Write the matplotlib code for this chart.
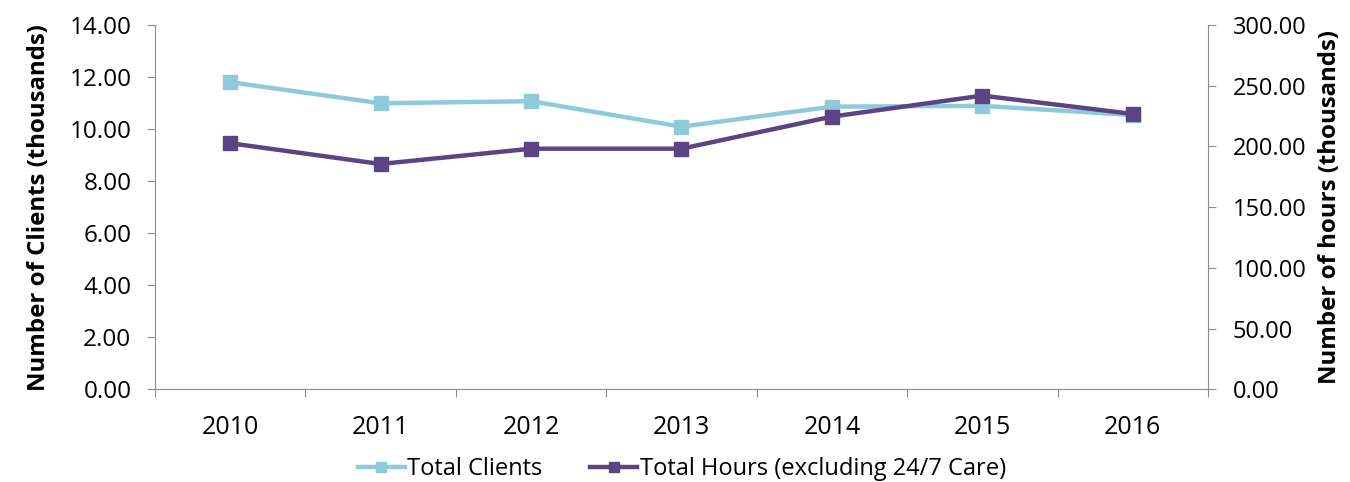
import numpy as np
import matplotlib.pyplot as plt

plt.rcParams['font.family'] = ['Open Sans', 'DejaVu Sans']

years = ['2010', '2011', '2012', '2013', '2014', '2015', '2016']
total_clients = [11.80, 10.99, 11.07, 10.09, 10.86, 10.89, 10.54]      # thousands
total_hours = [202.6, 185.5, 198.1, 198.1, 224.5, 241.8, 226.7]        # thousands

clients_color = '#8ECADB'
hours_color = '#5C4384'
spine_color = '#8C8C8C'

fig = plt.figure(figsize=(13.5, 4.82), dpi=100)
ax = fig.add_axes([0.1148, 0.1923, 0.78, 0.756])
ax2 = ax.twinx()

x = np.arange(len(years))
l1, = ax.plot(x, total_clients, color=clients_color, lw=3.2, marker='s', ms=10,
              label='Total Clients')
l2, = ax2.plot(x, total_hours, color=hours_color, lw=3.2, marker='s', ms=10,
               label='Total Hours (excluding 24/7 Care)')

ax.set_xlim(-0.5, len(years) - 0.5)
ax.set_ylim(0, 14)
ax2.set_ylim(0, 300)
ax.set_yticks(np.arange(0, 14.01, 2))
ax.set_yticklabels([f'{v:.2f}' for v in np.arange(0, 14.01, 2)])
ax2.set_yticks(np.arange(0, 300.1, 50))
ax2.set_yticklabels([f'{v:.2f}' for v in np.arange(0, 300.1, 50)])

# category ticks sit between years, labels centred on years
ax.set_xticks(np.arange(-0.5, len(years), 1))
ax.set_xticklabels([])
ax.set_xticks(x, minor=True)
ax.set_xticklabels(years, minor=True)
ax.tick_params(axis='x', which='major', length=6, color=spine_color)
ax.tick_params(axis='x', which='minor', length=0, pad=18.5, labelsize=18)
ax.tick_params(axis='y', length=6, color=spine_color, labelsize=17.5, pad=11)
ax2.tick_params(axis='y', length=6, color=spine_color, labelsize=17, pad=12)

for a in (ax, ax2):
    a.spines['top'].set_visible(False)
    for s in ('left', 'right', 'bottom'):
        a.spines[s].set_color(spine_color)
ax.spines['right'].set_visible(False)
ax2.spines['left'].set_visible(False)
ax2.spines['bottom'].set_visible(False)

ax.set_ylabel('Number of Clients (thousands)', fontsize=17.3, fontweight='bold', labelpad=13)
ax2.set_ylabel('Number of hours (thousands)', fontsize=17.3, fontweight='bold', labelpad=8)

fig.legend(handles=[l1, l2], loc='lower center', bbox_to_anchor=(0.505, -0.043), ncol=2,
           frameon=False, fontsize=17, handlelength=2.0, handletextpad=0.1,
           columnspacing=2.0, markerscale=0.7)

fig.savefig('out.png', dpi=100)
